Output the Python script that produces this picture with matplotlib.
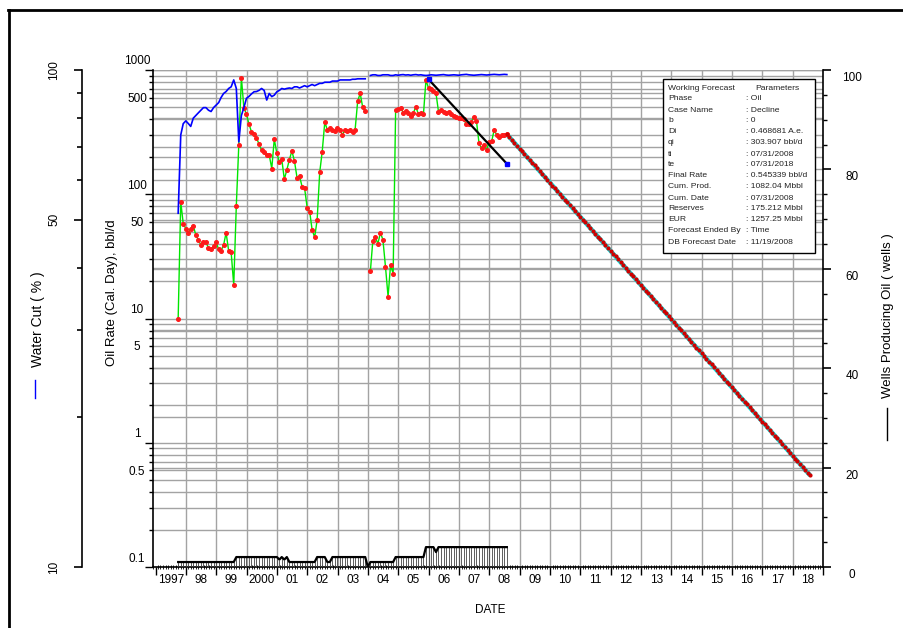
import numpy as np
import matplotlib
matplotlib.use("Agg")
import matplotlib.pyplot as plt
import matplotlib.dates as mdates
import matplotlib.transforms as mtransforms
from matplotlib.lines import Line2D
from matplotlib.patches import Rectangle
from matplotlib.ticker import FixedLocator, NullFormatter
import pandas as pd

plt.rcParams['font.family'] = ['Liberation Sans', 'DejaVu Sans']

# ---------------- data ----------------
hist_start = "1997-09-30"   # first producing month (month-end dates)

oil_rate = [  # bbl/d, calendar-day rate
    10, 87, 58, 53, 49, 53, 56, 47, 43, 39, 41, 41,
    37, 36, 38, 41, 36, 35, 39, 49, 35, 34, 18.6, 81,
    250, 867, 497, 440, 366, 319, 307, 285, 252, 227, 220, 207,
    207, 161, 278, 213, 183, 192, 132, 157, 190, 223, 185, 136,
    140, 115, 112, 78, 72, 52, 45, 62, 150, 220, 380, 330,
    340, 330, 325, 340, 330, 300, 330, 320, 330, 315, 330, 560,
    649, 500, 470, np.nan, 24, 42, 45, 40, 49, 43, 26, 15,
    27, 23, 476, 483, 497, 454, 468, 448, 427, 448, 507, 441,
    454, 441, 831, 712, 700, 682, 649, 462, 476, 462, 454, 462,
    441, 430, 420, 408, 408, 400, 366, 370, 384, 421, 389, 257,
    234, 249, 227, 265, 268, 329, 300, 291, 300, 300, 304,
]

water_cut = [  # %
    51.5, 74, 78, 79, 78, 77, 80, 81, 82, 83, 84, 84,
    83, 82.5, 84, 85, 86, 88, 89.7, 90.5, 91.8, 92.5, 95.5, 91.8,
    71.7, 81, 84, 87.7, 88.5, 89.5, 90.4, 90.5, 91, 91.8, 91, 87,
    89.7, 88.4, 89, 90.4, 91, 91.8, 91.5, 91.8, 92, 91.8, 92.5, 92.5,
    92, 92.5, 93, 92.5, 93, 93.5, 93, 93.5, 94, 94, 94.5, 94.5,
    94.5, 95, 95, 95, 95.5, 95.5, 95.5, 95.5, 95.5, 95.8, 95.8, 96,
    96, 96, 96, np.nan, 97.5, 97.8, 97.8, 97.5, 97.5, 97.8, 97.8, 97.8,
    97.5, 97.5, 97.8, 97.6, 97.8, 97.9, 97.7, 97.8, 97.6, 97.8, 97.9, 97.7,
    97.8, 97.6, 97.5, 97.6, 97.8, 97.7, 97.6, 97.7, 97.8, 97.9, 97.7, 97.6,
    97.7, 97.8, 97.7, 97.6, 97.8, 97.9, 98.0, 97.8, 97.7, 97.6, 97.7, 97.8,
    97.9, 97.8, 97.7, 97.8, 97.9, 98.0, 97.9, 97.8, 97.9, 98.0, 97.9,
]

wells = [  # producing oil wells
    1, 1, 1, 1, 1, 1, 1, 1, 1, 1, 1, 1,
    1, 1, 1, 1, 1, 1, 1, 1, 1, 1, 1, 2,
    2, 2, 2, 2, 2, 2, 2, 2, 2, 2, 2, 2,
    2, 2, 2, 2, 1.5, 2, 1.5, 2, 1, 1, 1, 1,
    1, 1, 1, 1, 1, 1, 1, 2, 2, 2, 2, 1,
    1, 2, 2, 2, 2, 2, 2, 2, 2, 2, 2, 2,
    2, 2, 2, 0, 1, 1, 1, 1, 1, 1, 1, 1,
    1, 1, 2, 2, 2, 2, 2, 2, 2, 2, 2, 2,
    2, 2, 4, 4, 4, 4, 3, 4, 4, 4, 4, 4,
    4, 4, 4, 4, 4, 4, 4, 4, 4, 4, 4, 4,
    4, 4, 4, 4, 4, 4, 4, 4, 4, 4, 4,
]

# decline-curve fit over the recent history
fit_dates = ["2005-12-31", "2008-07-31"]
fit_rates = [841, 176]

# working forecast parameters
param_names = ["Working Forecast", "Phase", "Case Name", "b", "Di", "qi", "ti", "te",
               "Final Rate", "Cum. Prod.", "Cum. Date", "Reserves", "EUR",
               "Forecast Ended By", "DB Forecast Date"]
param_values = ["Parameters", ": Oil", ": Decline", ": 0", ": 0.468681 A.e.",
                ": 303.907 bbl/d", ": 07/31/2008", ": 07/31/2018", ": 0.545339 bbl/d",
                ": 1082.04 Mbbl", ": 07/31/2008", ": 175.212 Mbbl", ": 1257.25 Mbbl",
                ": Time", ": 11/19/2008"]
qi = 303.907
Di = 0.468681          # annual effective decline, b = 0
ti = "2008-07-31"
te = "2018-07-31"

year_labels = ["1997", "98", "99", "2000", "01", "02", "03", "04", "05", "06", "07",
               "08", "09", "10", "11", "12", "13", "14", "15", "16", "17", "18"]
oil_ticks = [1000, 500, 100, 50, 10, 5, 1, 0.5, 0.1]
wc_ticks = [100, 50, 10]
well_ticks = [0, 20, 40, 60, 80, 100]

# ---------------- helpers ----------------
def month_ends(start, n):
    try:
        return pd.date_range(start, periods=n, freq="ME")
    except ValueError:
        return pd.date_range(start, periods=n, freq="M")

def to_num(d):
    return mdates.date2num(pd.to_datetime(d).to_pydatetime())

hist_dates = month_ends(hist_start, len(oil_rate))
hx = mdates.date2num(hist_dates.to_pydatetime())

n_fc = (pd.Timestamp(te).year - pd.Timestamp(ti).year) * 12 + 1
fc_dates = month_ends(ti, n_fc)
fcx = mdates.date2num(fc_dates.to_pydatetime())
t_years = (fc_dates - pd.Timestamp(ti)).days / 365.25
fc_rate = qi * (1.0 - Di) ** np.asarray(t_years)

W, H = 904, 628
fig = plt.figure(figsize=(W / 100, H / 100), dpi=100)

def FX(x):
    return x / W

def FY(y):
    return 1 - y / H

AX_L, AX_R, AX_T, AX_B = 153, 823, 70, 567
rect = [FX(AX_L), FY(AX_B), (AX_R - AX_L) / W, (AX_B - AX_T) / H]
ax = fig.add_axes(rect)
ax.set_facecolor("none")

GRID = "#a3a3a3"
x0, x1 = to_num("1996-12-01"), to_num("2019-01-01")

# ---------------- oil rate axis ----------------
ax.set_yscale("log")
ax.set_ylim(0.1, 1000)
ax.set_xlim(x0, x1)
for s in ["top", "right"]:
    ax.spines[s].set_visible(False)

# grid: oil-rate log grid
for dec in [0.1, 1, 10, 100]:
    for k in range(1, 10):
        ax.axhline(k * dec, color=GRID, lw=1, zorder=0.5)
ax.axhline(1000, color=GRID, lw=1, zorder=0.5)
# grid: water cut (10-100 log) and wells (0-100) levels
for v in range(20, 101, 10):
    f = np.log10(v) - 1
    ax.plot([0, 1], [f, f], transform=ax.transAxes, color=GRID, lw=1, zorder=0.5)
for v in [20, 40, 60, 80]:
    ax.plot([0, 1], [v / 100, v / 100], transform=ax.transAxes, color=GRID, lw=1, zorder=0.5)
# grid: year boundaries
for yr in range(1998, 2019):
    ax.axvline(to_num(f"{yr}-01-01"), color=GRID, lw=1, zorder=0.5)

ax.yaxis.set_major_locator(FixedLocator([0.1, 1, 10, 100, 1000]))
ax.yaxis.set_minor_locator(FixedLocator([k * d for d in [0.1, 1, 10, 100] for k in range(2, 10)]))
ax.yaxis.set_major_formatter(NullFormatter())
ax.yaxis.set_minor_formatter(NullFormatter())
ax.tick_params(axis="y", which="major", length=5.5, width=1, direction="out")
ax.tick_params(axis="y", which="minor", length=3, width=1, direction="out")

ax.xaxis.set_major_locator(FixedLocator([to_num(f"{yr}-01-01") for yr in range(1997, 2020)]))
ax.xaxis.set_minor_locator(mdates.MonthLocator())
ax.xaxis.set_major_formatter(NullFormatter())
ax.tick_params(axis="x", which="major", length=5.5, width=1, direction="out")
ax.tick_params(axis="x", which="minor", length=2.5, width=0.6, direction="inout")
ax.spines["left"].set_linewidth(1.2)
ax.spines["bottom"].set_linewidth(1.2)

ax.plot(hx, oil_rate, color="#00e600", lw=1, zorder=3)
ax.plot(hx, oil_rate, ls="none", marker="o", ms=2.6, mfc="#ff1a1a", mec="#ff1a1a", zorder=4)

ax.plot(fcx, fc_rate, color="#00e5e5", lw=3.2, zorder=3, solid_capstyle="butt")
ax.plot(fcx, fc_rate, ls="none", marker="o", ms=2, mfc="#d00000", mec="#d00000", zorder=4)

ax.plot([to_num(d) for d in fit_dates], fit_rates, color="black", lw=1.6, zorder=5,
        marker="s", ms=3.5, mfc="#0000ff", mec="#0000ff")

# oil tick labels
otr = mtransforms.blended_transform_factory(fig.transFigure, ax.transData) + \
    mtransforms.ScaledTranslation(0, 2.5 / 100, fig.dpi_scale_trans)
for v in oil_ticks:
    ax.text(FX(137), v, f"{v:g}", transform=otr, ha="center", va="bottom", fontsize=8.5)

# year labels, centred on each year
ytr = mtransforms.blended_transform_factory(ax.transData, fig.transFigure)
for i, lab in enumerate(year_labels):
    yr = 1997 + i
    xm = (to_num(f"{yr}-01-01") + to_num(f"{yr + 1}-01-01")) / 2
    ax.text(xm, FY(580), lab, transform=ytr, ha="center", va="center", fontsize=8.5)

# ---------------- water cut axis (far left) ----------------
wax = ax.twinx()
wax.set_facecolor("none")
wax.set_yscale("log")
wax.set_ylim(10, 100)
for s in ["top", "right", "bottom"]:
    wax.spines[s].set_visible(False)
wax.spines["left"].set_visible(True)
wax.spines["left"].set_position(("axes", (82 - AX_L) / (AX_R - AX_L)))
wax.spines["left"].set_linewidth(1.2)
wax.yaxis.set_ticks_position("left")
wax.yaxis.set_major_locator(FixedLocator(wc_ticks))
wax.yaxis.set_minor_locator(FixedLocator([20, 30, 40, 60, 70, 80, 90]))
wax.yaxis.set_major_formatter(NullFormatter())
wax.yaxis.set_minor_formatter(NullFormatter())
wax.tick_params(axis="y", which="major", length=6, width=1.2, direction="out")
wax.tick_params(axis="y", which="minor", length=3.5, width=1.2, direction="out")
wax.plot(hx, water_cut, color="#0000ff", lw=1.2, zorder=3)
wtr = mtransforms.blended_transform_factory(fig.transFigure, wax.transData)
for v in wc_ticks:
    wax.text(FX(54), v, f"{v}", transform=wtr, ha="center", va="center",
             rotation=90, fontsize=8.5)

# ---------------- wells axis (right) ----------------
rax = ax.twinx()
rax.set_facecolor("none")
rax.set_ylim(0, 100)
for s in ["top", "left", "bottom"]:
    rax.spines[s].set_visible(False)
rax.spines["right"].set_linewidth(1.2)
rax.yaxis.set_major_locator(FixedLocator(well_ticks))
rax.yaxis.set_minor_locator(FixedLocator(list(range(0, 101, 5))))
rax.yaxis.set_major_formatter(NullFormatter())
rax.tick_params(axis="y", which="major", length=6, width=1.2, direction="out")
rax.tick_params(axis="y", which="minor", length=3, width=1, direction="out")
rax.vlines(hx, 0, wells, color="#444444", lw=0.6, zorder=2)
rax.plot(hx, wells, color="black", lw=1.6, zorder=3)
rtr = mtransforms.blended_transform_factory(fig.transFigure, rax.transData) + \
    mtransforms.ScaledTranslation(0, -8 / 100, fig.dpi_scale_trans)
for v in well_ticks:
    rax.text(FX(852), v, f"{v}", transform=rtr, ha="center", va="center", fontsize=8.5)

# ---------------- axis titles ----------------
fig.text(FX(490), FY(610), "DATE", ha="center", va="center", fontsize=8.5)
fig.text(FX(112), FY(293), "Oil Rate (Cal. Day), bbl/d", rotation=90,
         ha="center", va="center", fontsize=9.5)
fig.text(FX(38), FY(319), "Water Cut ( % )", rotation=90,
         ha="center", va="center", fontsize=10)
fig.add_artist(Line2D([FX(35), FX(35)], [FY(380), FY(398)], color="#0000ff", lw=1))
fig.text(FX(888), FY(316), "Wells Producing Oil ( wells )", rotation=90,
         ha="center", va="center", fontsize=9.5)
fig.add_artist(Line2D([FX(887), FX(887)], [FY(408), FY(440)], color="black", lw=1))

# ---------------- parameters box ----------------
fig.add_artist(Rectangle((FX(663), FY(253)), (815 - 663) / W, (253 - 79) / H,
                         transform=fig.transFigure, facecolor="white",
                         edgecolor="black", lw=1, zorder=5))
for i, (nm, val) in enumerate(zip(param_names, param_values)):
    yy = FY(88 + i * 11.0)
    fig.text(FX(668), yy, nm, ha="left", va="center", fontsize=6.1, zorder=6, color="#222222")
    vx = 755 if i == 0 else 746
    fig.text(FX(vx), yy, val, ha="left", va="center", fontsize=6.1, zorder=6, color="#222222")

# outer frame
fig.add_artist(Line2D([FX(8), FX(904)], [FY(10), FY(10)], color="black", lw=2))
fig.add_artist(Line2D([FX(9), FX(9)], [FY(10), FY(628)], color="black", lw=2))

fig.savefig("out.png", dpi=100)
